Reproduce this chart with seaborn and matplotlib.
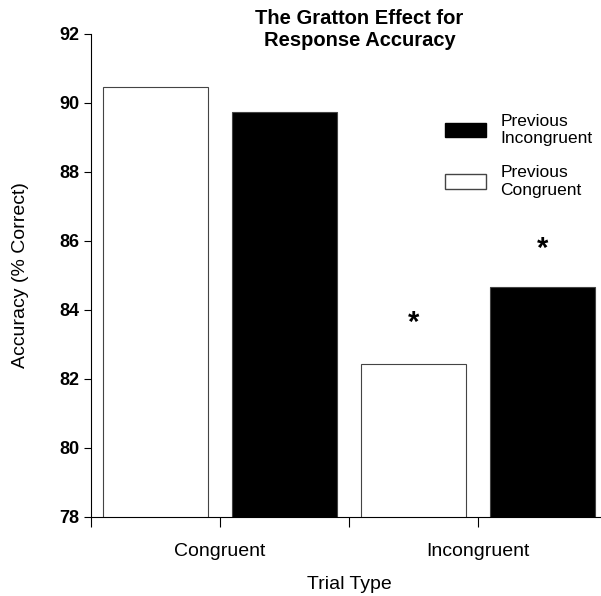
import pandas as pd
import numpy as np
import matplotlib.pyplot as plt
import seaborn as sns
from matplotlib.patches import Patch

sns.set_style('ticks', {'text.color': 'black', 'axes.labelcolor': 'black',
                        'xtick.color': 'black', 'ytick.color': 'black',
                        'axes.edgecolor': 'black'})
plt.rcParams['font.family'] = ['Liberation Sans', 'DejaVu Sans']

# Data
trial_types = ['Congruent', 'Incongruent']
prev_congruent = [90.45, 82.43]
prev_incongruent = [89.75, 84.68]
significant = [False, True]   # asterisk over both bars of this trial type

df = pd.DataFrame({
    'trial': trial_types * 2,
    'previous': ['Previous Congruent'] * 2 + ['Previous Incongruent'] * 2,
    'accuracy': prev_congruent + prev_incongruent,
})

fig = plt.figure(figsize=(6.01, 5.96), dpi=100)
ax = fig.add_axes([0.1514, 0.1326, 0.8586, 0.8104])

hue_order = ['Previous Congruent', 'Previous Incongruent']
sns.barplot(data=df, x='trial', y='accuracy', hue='previous', hue_order=hue_order,
            order=trial_types, palette={'Previous Congruent': 'white',
                                        'Previous Incongruent': 'black'},
            width=1.0, gap=0.18, edgecolor='#444444', linewidth=0.8,
            legend=False, ax=ax)

ax.set_ylim(78, 92)
ax.set_xlim(-0.5, 1.5)
ax.set_yticks(np.arange(78, 93, 2))
ax.set_xticks([-0.5, 0, 0.5, 1, 1.5])
ax.set_xticklabels(['', 'Congruent', '', 'Incongruent', ''], fontsize=14)
ax.tick_params(axis='y', labelsize=13, length=5, width=0.8, direction='out')
ax.tick_params(axis='x', length=7, width=0.8, direction='out', pad=12)
for lab in ax.get_yticklabels():
    lab.set_fontweight('bold')
sns.despine(ax=ax)
ax.spines['left'].set_linewidth(0.8)
ax.spines['bottom'].set_linewidth(0.8)

ax.set_xlabel('Trial Type', fontsize=14, labelpad=11)
ax.set_ylabel('Accuracy (% Correct)', fontsize=14, labelpad=22)

# significance asterisks
for i, sig in enumerate(significant):
    if sig:
        ax.text(i - 0.25, prev_congruent[i] + 1.2, '*', ha='center', va='center',
                fontsize=21, fontweight='bold')
        ax.text(i + 0.25, prev_incongruent[i] + 1.1, '*', ha='center', va='center',
                fontsize=21, fontweight='bold')

fig.text(0.598, 0.985, 'The Gratton Effect for\nResponse Accuracy', ha='center',
         va='top', fontsize=14.5, fontweight='bold', linespacing=1.2)

handles = [Patch(facecolor='black', edgecolor='black', label='Previous\nIncongruent'),
           Patch(facecolor='white', edgecolor='#444444', label='Previous\nCongruent')]
ax.legend(handles=handles, loc='upper left', bbox_to_anchor=(0.714, 0.835),
          bbox_transform=fig.transFigure, frameon=False, fontsize=12.5,
          handlelength=2.4, handleheight=0.9, labelspacing=1.1, handletextpad=0.8)

fig.savefig('out.png', dpi=100)
